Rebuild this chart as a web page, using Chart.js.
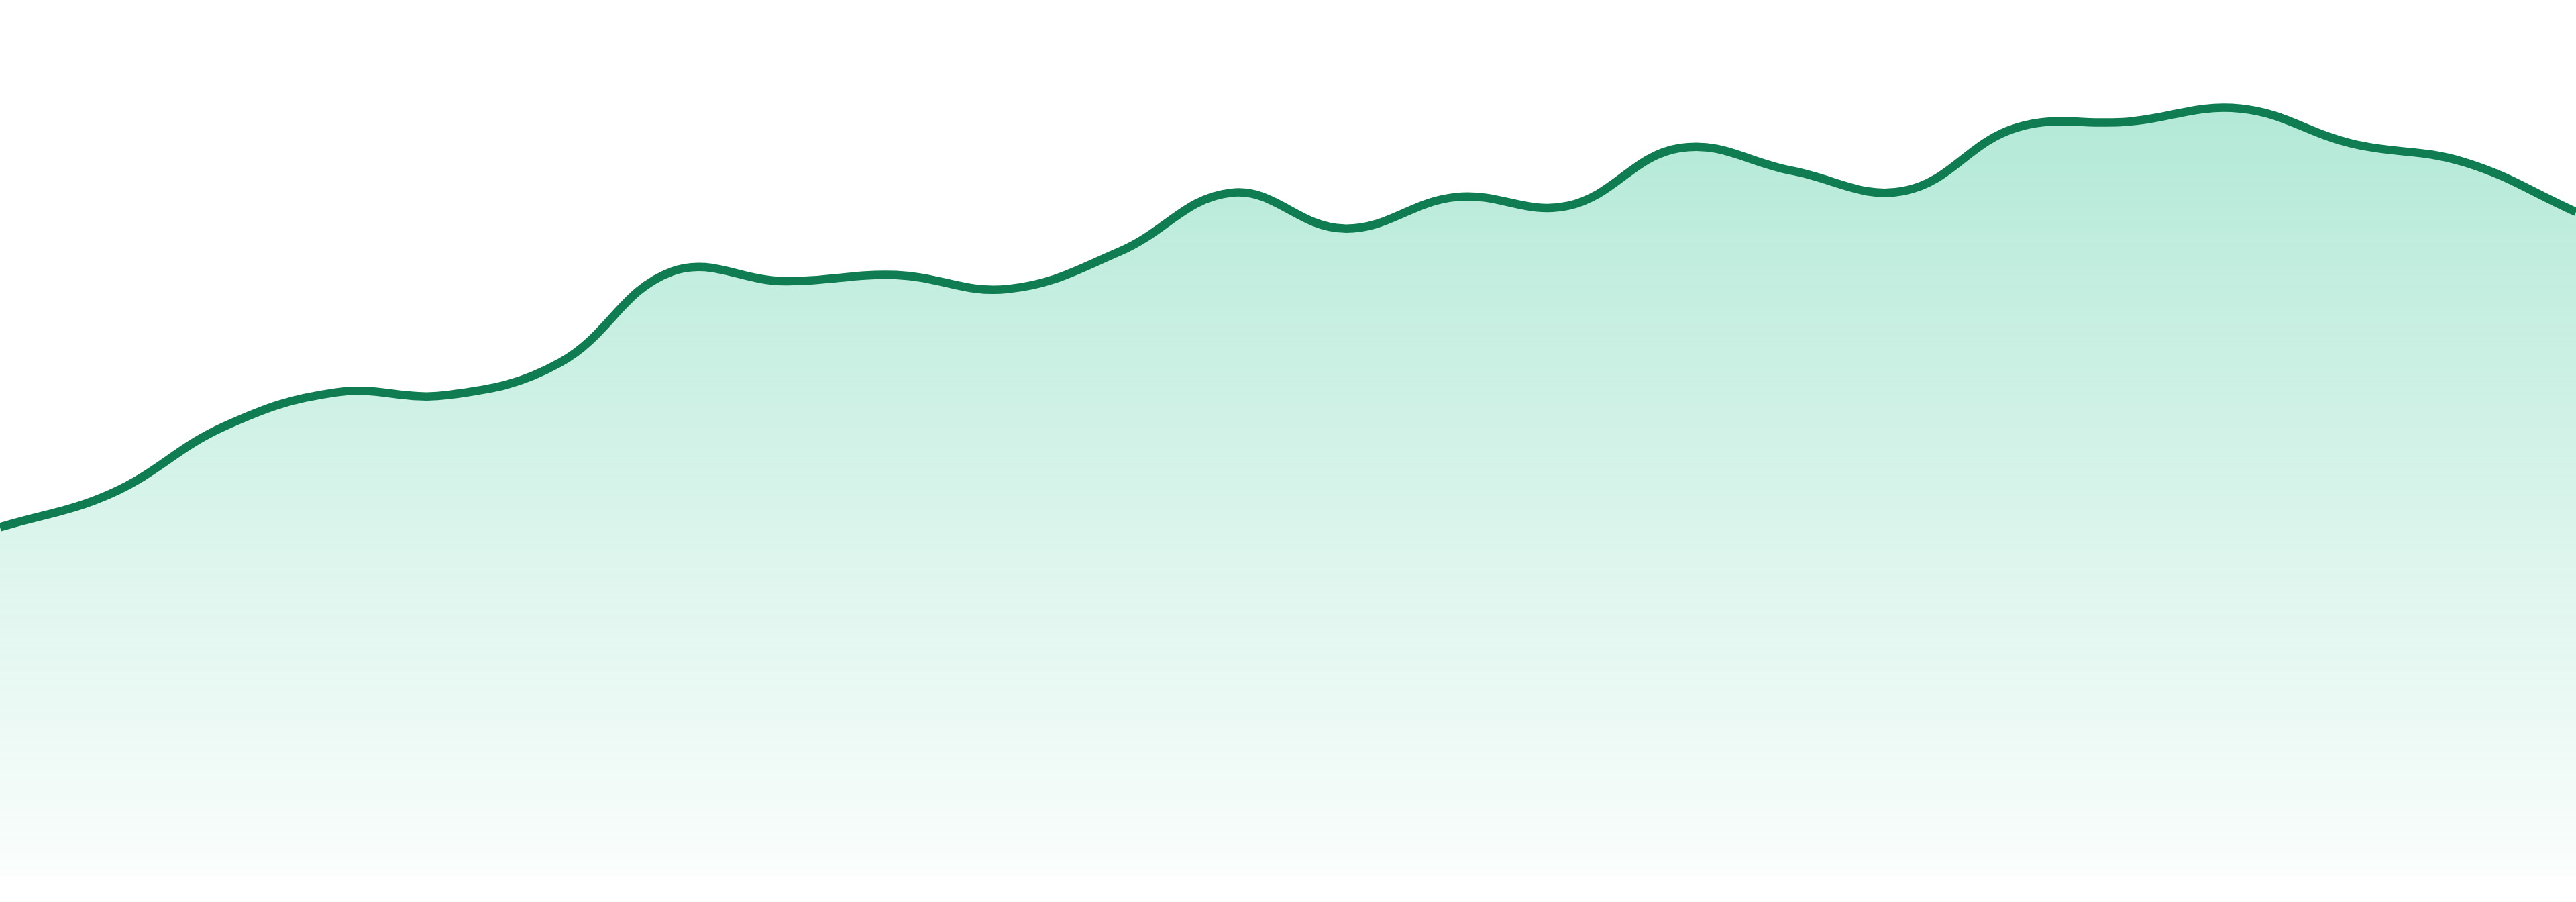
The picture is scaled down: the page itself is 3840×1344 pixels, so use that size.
<!DOCTYPE html>
<html>
<head>
<meta charset="utf-8">
<script src="https://cdn.jsdelivr.net/npm/chart.js@4"></script>
<style>
  html, body { margin: 0; padding: 0; background: #fff; }
  #wrap { width: 3840px; height: 1344px; }
</style>
</head>
<body>
<div id="wrap"><canvas id="trendChart"></canvas></div>
<script>
const labels = ['1', '2', '3', '4', '5', '6', '7', '8', '9', '10', '11', '12',
                '13', '14', '15', '16', '17', '18', '19', '20', '21', '22', '23', '24'];
const values = [39.8, 43.7, 51.3, 55.2, 54.9, 58.6, 69.0, 67.9, 68.6, 67.0, 71.3, 78.0,
                73.9, 77.5, 76.5, 83.1, 80.5, 78.2, 85.4, 86.1, 87.6, 83.6, 81.5, 75.8];
const yMin = 0;
const yMax = 100;

// gradient under the line, top to bottom of the plot area
function areaFill(context) {
    const { ctx, chartArea } = context.chart;
    if (!chartArea) return 'rgba(16,185,129,0.2)';
    const g = ctx.createLinearGradient(0, chartArea.top, 0, chartArea.bottom);
    g.addColorStop(0, 'rgba(16,185,129,0.36)');
    g.addColorStop(1, 'rgba(16,185,129,0.02)');
    return g;
}

new Chart(document.getElementById('trendChart'), {
    type: 'line',
    data: {
        labels: labels,
        datasets: [{
            data: values,
            borderColor: '#107c52',
            borderWidth: 12.5,
            backgroundColor: areaFill,
            fill: 'start',
            tension: 0.4,
            pointRadius: 0,
            pointHoverRadius: 0
        }]
    },
    options: {
        responsive: true,
        maintainAspectRatio: false,
        devicePixelRatio: 1,
        animation: false,
        layout: { padding: { top: 0, left: 0, right: 0, bottom: 39 } },
        scales: {
            x: { display: false, offset: false },
            y: { display: false, min: yMin, max: yMax }
        },
        plugins: {
            legend: { display: false },
            tooltip: { enabled: false }
        }
    }
});
</script>
</body>
</html>
